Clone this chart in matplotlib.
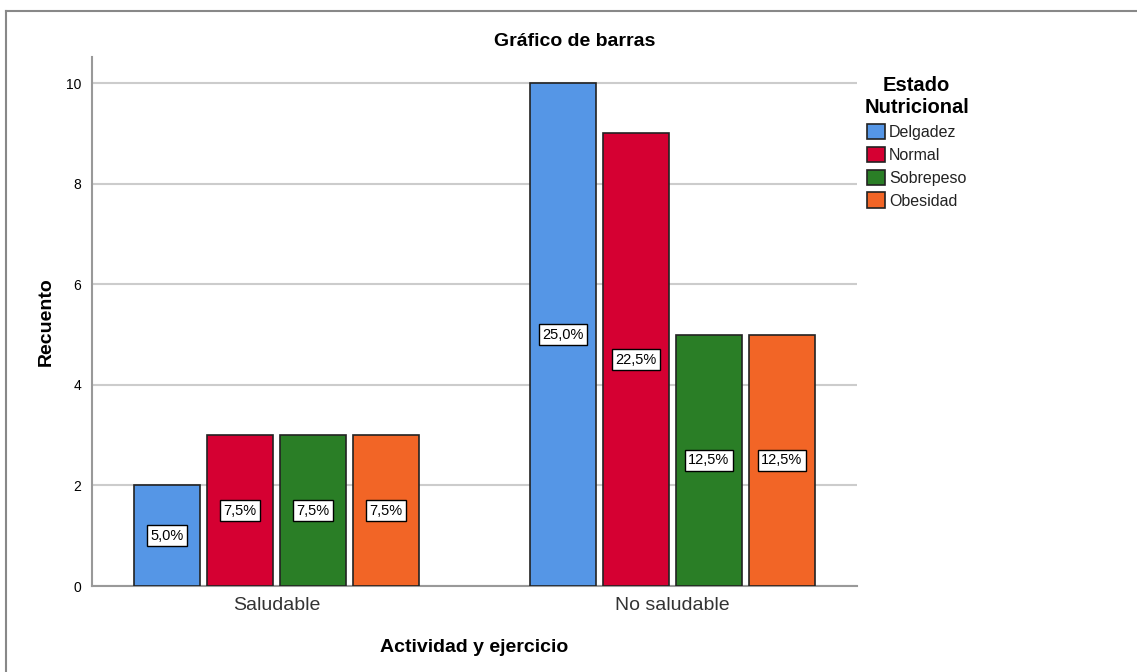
import numpy as np
import matplotlib.pyplot as plt
from matplotlib.lines import Line2D
from matplotlib.patches import Patch

plt.rcParams['font.family'] = ['Liberation Sans', 'DejaVu Sans']

grupos = ['Saludable', 'No saludable']
estados = ['Delgadez', 'Normal', 'Sobrepeso', 'Obesidad']
colores = ['#5596E6', '#D50032', '#2A7E26', '#F26526']
recuento = {
    'Delgadez': [2, 10],
    'Normal': [3, 9],
    'Sobrepeso': [3, 5],
    'Obesidad': [3, 5],
}
porcentaje = {
    'Delgadez': ['5,0%', '25,0%'],
    'Normal': ['7,5%', '22,5%'],
    'Sobrepeso': ['7,5%', '12,5%'],
    'Obesidad': ['7,5%', '12,5%'],
}

fig = plt.figure(figsize=(11.37, 6.72), dpi=100)
ax = fig.add_axes([92/1137, 86/672, 765/1137, 529/672])

x = np.arange(len(grupos))
ancho = 0.1667
paso = 0.1843
for i, est in enumerate(estados):
    pos = x + (i - 1.5) * paso
    vals = recuento[est]
    ax.bar(pos, vals, width=ancho, color=colores[i], edgecolor='#222222',
           linewidth=1.2, zorder=3)
    for p, v, t in zip(pos, vals, porcentaje[est]):
        ax.text(p, v / 2, t, ha='center', va='center', fontsize=10.5, zorder=4,
                bbox=dict(boxstyle='square,pad=0.25', fc='white', ec='black', lw=1))

ax.set_xlim(-0.466, 1.466)
ax.set_ylim(0, 10.52)
ax.set_yticks([0, 2, 4, 6, 8, 10])
ax.set_xticks(x)
ax.set_xticklabels(grupos, fontsize=14, color='#333333')
ax.tick_params(axis='y', labelsize=10, length=0, pad=8)
ax.tick_params(axis='x', length=0, pad=8)
ax.yaxis.grid(True, color='#cccccc', linewidth=1.5, zorder=0)
ax.set_axisbelow(True)
for s in ['top', 'right']:
    ax.spines[s].set_visible(False)
for s in ['left', 'bottom']:
    ax.spines[s].set_color('#999999')
    ax.spines[s].set_linewidth(1.5)

ax.set_ylabel('Recuento', fontsize=14, fontweight='bold', labelpad=8)
ax.set_xlabel('Actividad y ejercicio', fontsize=14, fontweight='bold', labelpad=18)
fig.text(575/1137, 1 - 41/672, 'Gráfico de barras', ha='center', va='center',
         fontsize=14, fontweight='bold')

handles = [Patch(facecolor=c, edgecolor='#222222', linewidth=1.2) for c in colores]
leg = fig.legend(handles, estados, loc='upper left',
                 bbox_to_anchor=(850/1137, 1 - 62/672), frameon=False,
                 fontsize=11.5, handlelength=1.1, handleheight=1.1,
                 handletextpad=0.25, labelspacing=0.42,
                 title='Estado\nNutricional',
                 title_fontproperties={'weight': 'bold', 'size': 14.5})
leg.get_title().set_multialignment('center')
for t in leg.get_texts():
    t.set_color('#222222')

# marco exterior
fig.add_artist(Line2D([6/1137, 6/1137], [0, 1 - 11/672], color='#888888', lw=1.5))
fig.add_artist(Line2D([6/1137, 1], [1 - 11/672, 1 - 11/672], color='#888888', lw=1.5))

fig.savefig('out.png', dpi=100)
